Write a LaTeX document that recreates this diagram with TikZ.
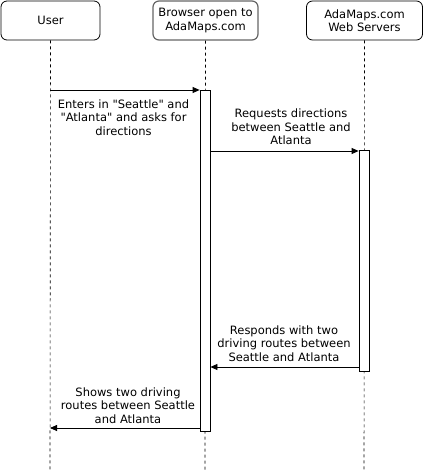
\documentclass[tikz,border=0pt]{standalone}
\usepackage{fontspec}
\setmainfont{DejaVu Sans}[Ligatures=TeXOff]
\usetikzlibrary{arrows.meta}
\begin{document}
\begin{tikzpicture}[x=1pt,y=-1pt,
  actor/.style={draw=black,line width=0.8pt,rounded corners=6pt,fill=white,inner sep=0pt,align=center,font=\fontsize{11.5}{13.5}\selectfont},
  bar/.style={draw=black,line width=0.8pt,fill=white,inner sep=0pt,minimum width=10pt},
  life/.style={draw=black,line width=0.6pt,dash pattern=on 3pt off 3pt},
  msg/.style={draw=black,line width=0.8pt,-{Triangle[length=7pt,width=6pt]}},
  lbl/.style={align=center,font=\fontsize{11.5}{13.5}\selectfont,inner sep=0pt}]
\useasboundingbox (0,0) rectangle (423,471);
% actors
\node[actor,minimum width=99pt,minimum height=39pt] (user) at (50.5,20.5) {User};
\node[actor,minimum width=105pt,minimum height=39pt,draw=black!60,line width=1.2pt] (browser) at (205.5,20.5) {Browser open to\\AdaMaps.com};
\node[actor,minimum width=116pt,minimum height=39pt] (server) at (364.5,20.5) {AdaMaps.com\\Web Servers};
% lifeline ends
\coordinate (uend) at (50,471);
\coordinate (bend) at (205,471);
\coordinate (send) at (364,471);
\draw[life] (user.south) -- (uend);
\draw[life] (browser.south) -- (bend);
\draw[life] (server.south) -- (send);
% activation bars
\node[bar,minimum height=341pt,anchor=north] (bbar) at (205,90) {};
\node[bar,minimum height=221pt,anchor=north] (sbar) at (364,150) {};
% messages
\coordinate (u1) at (50,90);
\coordinate (u4) at (50,428);
\draw[msg] (u1) -- (bbar.north west);
\draw[msg] ([yshift=-1pt]bbar.east |- sbar.north) -- ([yshift=-1pt]sbar.north west);
\draw[msg] (sbar.west |- 0,367) -- (bbar.east |- 0,367);
\draw[msg] (bbar.west |- u4) -- (u4);
% labels
\node[lbl] (l1) at (123.5,117.5) {Enters in "Seattle" and\\"Atlanta" and asks for\\directions};
\node[lbl] (l2) at (291,127) {Requests directions\\between Seattle and\\Atlanta};
\node[lbl] (l3) at (284,343.5) {Responds with two\\driving routes between\\Seattle and Atlanta};
\node[lbl] (l4) at (128,405.5) {Shows two driving\\routes between Seattle\\and Atlanta};
\end{tikzpicture}
\end{document}
